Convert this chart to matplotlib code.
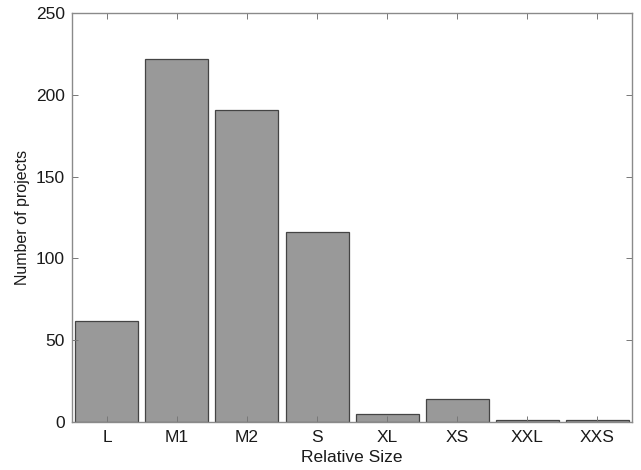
import matplotlib.pyplot as plt

categories = ["L", "M1", "M2", "S", "XL", "XS", "XXL", "XXS"]
counts = [62, 222, 191, 116, 5, 14, 1, 1]

plt.rcParams['font.family'] = ['Liberation Sans', 'DejaVu Sans']

fig = plt.figure(figsize=(6.41, 4.70), dpi=100)
ax = fig.add_axes([0.1123, 0.1021, 0.8737, 0.8702])

pos = range(1, len(categories) + 1)
ax.bar(pos, counts, width=0.9, color="#999999", edgecolor="#444444", linewidth=0.9)

ax.set_xlim(0.5, len(categories) + 0.5)
ax.set_ylim(0, 250)
ax.set_xticks(list(pos))
ax.set_xticklabels(categories)
ax.set_yticks([0, 50, 100, 150, 200, 250])

ax.tick_params(direction="in", top=True, right=True, length=4, width=0.7,
               labelsize=12.5, color="#777777", labelcolor="#1a1a1a")
ax.tick_params(axis="x", pad=6)
ax.tick_params(axis="y", pad=5)
for s in ax.spines.values():
    s.set_linewidth(1.0)
    s.set_color("#8a8a8a")

ax.set_xlabel("Relative Size", fontsize=12.5, labelpad=3, color="#1a1a1a")
ax.set_ylabel("Number of projects", fontsize=11.5, labelpad=4, color="#1a1a1a")

fig.savefig("out.png", dpi=100)
